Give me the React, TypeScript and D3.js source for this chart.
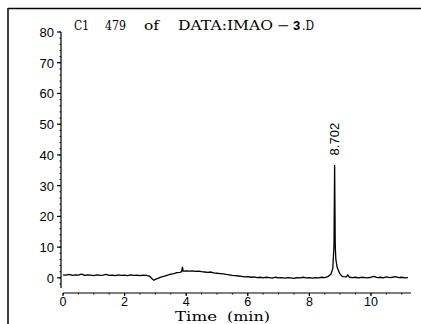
import React from "react";
import * as d3 from "d3";

const times = [
  0.0, 0.1, 0.2, 0.3, 0.4, 0.5, 0.6, 0.7, 0.8, 0.9, 1.0, 1.1, 1.2, 1.3, 1.4, 1.5, 1.6, 1.7, 1.8, 1.9,
  2.0, 2.1, 2.2, 2.3, 2.4, 2.5, 2.6, 2.7, 2.8, 2.85, 2.9, 2.95, 3.0, 3.1, 3.2, 3.3, 3.4, 3.5, 3.6, 3.7,
  3.8, 3.85, 3.88, 3.9, 4.0, 4.1, 4.2, 4.3, 4.4, 4.5, 4.6, 4.7, 4.8, 4.9, 5.0, 5.1, 5.2, 5.3, 5.4, 5.5,
  5.6, 5.7, 5.8, 5.9, 6.0, 6.1, 6.2, 6.3, 6.4, 6.5, 6.6, 6.7, 6.8, 6.9, 7.0, 7.1, 7.2, 7.3, 7.4, 7.5,
  7.6, 7.7, 7.8, 7.9, 8.0, 8.1, 8.2, 8.3, 8.4, 8.5, 8.6, 8.7, 8.76, 8.8, 8.82, 8.84, 8.86, 8.9, 8.95, 9.0,
  9.05, 9.1, 9.2, 9.25, 9.3, 9.4, 9.5, 9.6, 9.7, 9.8, 9.9, 10.0, 10.1, 10.2, 10.3, 10.4, 10.5, 10.6, 10.7,
  10.8, 10.9, 11.0, 11.1, 11.2,
];
const signal = [
  1.0, 0.9, 1.1, 0.8, 1.0, 0.9, 1.2, 0.8, 1.0, 0.9, 0.7, 1.0, 0.8, 0.9, 1.1, 0.8, 0.9, 0.7, 1.0, 0.8,
  0.9, 0.7, 1.0, 0.8, 0.9, 0.7, 0.9, 0.8, 0.6, 0.2, -0.4, -0.8, -0.5, -0.1, 0.3, 0.6, 0.9, 1.2, 1.4, 1.7,
  1.8, 2.0, 3.5, 2.2, 2.3, 2.2, 2.3, 2.1, 2.2, 2.0, 1.9, 1.8, 1.9, 1.6, 1.5, 1.4, 1.3, 1.1, 1.0, 0.8,
  0.7, 0.6, 0.5, 0.3, 0.4, 0.2, 0.3, 0.1, 0.2, 0.0, 0.2, 0.1, -0.1, 0.2, 0.0, 0.1, -0.1, 0.1, 0.0, -0.2,
  0.1, 0.0, 0.2, 0.0, 0.1, -0.1, 0.1, 0.0, 0.2, 0.1, 0.4, 1.2, 3.0, 10.5, 36.6, 10.5, 6.0, 3.5, 2.2, 1.2,
  0.6, 0.4, 0.3, 1.0, 0.2, 0.1, 0.2, 0.0, 0.2, 0.1, 0.0, 0.2, 0.5, 0.1, 0.2, 0.0, 0.3, 0.1, 0.2,
  0.4, 0.1, 0.2, 0.0, 0.1,
];
const xTicks = [0, 2, 4, 6, 8, 10];
const yTicks = [0, 10, 20, 30, 40, 50, 60, 70, 80];
const peakLabel = "8.702";
const peakTime = 8.82;
const peakValue = 36.6;

export default function App() {
  const W = 421;
  const H = 324;
  const x = d3.scaleLinear().domain([0, 11.3]).range([63, 411]);
  const y = d3.scaleLinear().domain([-3.3, 80]).range([288, 32]);
  const pts = times.map((t, i) => [t, signal[i]] as [number, number]);
  const line = d3
    .line<[number, number]>()
    .x((d) => x(d[0]))
    .y((d) => y(d[1]));
  const xMinor = d3.range(0, 11.3, 0.5);
  const yMinor = d3.range(-2, 80.1, 2);
  const sans = "'Liberation Sans Narrow', 'Arial Narrow', 'Liberation Sans', Arial, sans-serif";
  const serif = "'DejaVu Serif', 'Liberation Serif', serif";
  const axisY = x(0) - 2;
  const axisXy = 293;
  return (
    <svg
      width={W}
      height={H}
      style={{ position: "absolute", left: 0, top: 0, background: "#fff" }}
    >
      <rect x={0} y={0} width={W} height={H} fill="#fff" />
      {/* frame */}
      <line x1={8} y1={8.5} x2={W} y2={8.5} stroke="#000" strokeWidth={1.5} />
      <line x1={8} y1={8} x2={8} y2={H} stroke="#000" strokeWidth={1.5} />

      {/* title */}
      <g fontFamily={serif} fontSize={13} fill="#000">
        <text x={74} y={30} textLength={15} lengthAdjust="spacingAndGlyphs">C1</text>
        <text x={105} y={30} textLength={21} lengthAdjust="spacingAndGlyphs">479</text>
        <text x={144} y={30} textLength={15} lengthAdjust="spacingAndGlyphs">of</text>
        <text x={178} y={30} textLength={95} lengthAdjust="spacingAndGlyphs">DATA:IMAO</text>
        <text x={277} y={30} textLength={13} lengthAdjust="spacingAndGlyphs">−</text>
        <text x={293} y={30} fontFamily="'Liberation Sans', Arial, sans-serif" fontWeight="bold" fontSize={13}>3</text>
        <text x={302} y={30} textLength={12} lengthAdjust="spacingAndGlyphs">.D</text>
      </g>

      {/* y axis */}
      <line x1={axisY} y1={y(80)} x2={axisY} y2={y(-3.3)} stroke="#000" strokeWidth={1.2} />
      {yMinor.map((v) => (
        <line key={"ym" + v} x1={axisY - 1.5} x2={axisY} y1={y(v)} y2={y(v)} stroke="#000" strokeWidth={1} />
      ))}
      {yTicks.map((v) => (
        <g key={"yt" + v}>
          <line x1={axisY - 4} x2={axisY} y1={y(v)} y2={y(v)} stroke="#000" strokeWidth={1.2} />
          <text
            x={axisY - 7}
            y={y(v)}
            dy="0.38em"
            textAnchor="end"
            fontFamily={sans}
            fontSize={13}
            fill="#000"
          >
            {v}
          </text>
        </g>
      ))}

      {/* x axis */}
      <line x1={x(0)} y1={axisXy} x2={x(11.3)} y2={axisXy} stroke="#000" strokeWidth={1.2} />
      {xMinor.map((v) => (
        <line key={"xm" + v} x1={x(v)} x2={x(v)} y1={axisXy} y2={axisXy + 1.5} stroke="#000" strokeWidth={1} />
      ))}
      {xTicks.map((v) => (
        <g key={"xt" + v}>
          <line x1={x(v)} x2={x(v)} y1={axisXy} y2={axisXy + 3} stroke="#000" strokeWidth={1.2} />
          <text
            x={x(v)}
            y={306}
            textAnchor="middle"
            fontFamily={sans}
            fontSize={12.5}
            fill="#000"
          >
            {v}
          </text>
        </g>
      ))}
      <g fontFamily={serif} fontSize={12} fill="#000">
        <text x={175} y={321} textLength={42} lengthAdjust="spacingAndGlyphs">Time</text>
        <text x={227} y={321} textLength={43} lengthAdjust="spacingAndGlyphs">(min)</text>
      </g>

      {/* trace */}
      <path d={line(pts) || ""} fill="none" stroke="#000" strokeWidth={1.3} strokeLinejoin="round" />

      {/* peak label */}
      <text
        transform={`translate(${x(peakTime) + 4.5},${y(peakValue) - 10}) rotate(-90)`}
        fontFamily="'Liberation Sans', Arial, sans-serif"
        fontSize={13}
        fill="#000"
      >
        {peakLabel}
      </text>
    </svg>
  );
}
